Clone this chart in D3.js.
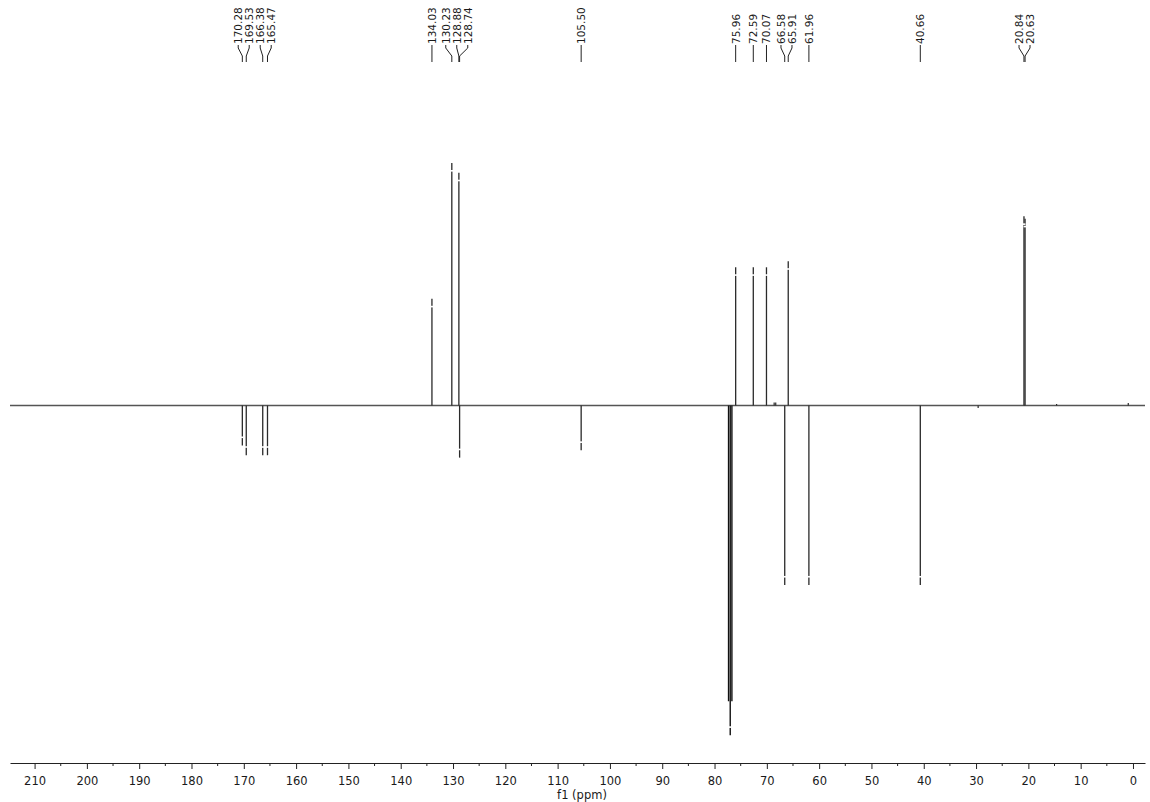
<!DOCTYPE html>
<html>
<head>
<meta charset="utf-8">
<script src="https://cdn.jsdelivr.net/npm/d3@7"></script>
<style>
  body { margin: 0; background: #fff; }
  svg { display: block; }
</style>
</head>
<body>
<svg id="chart" width="1150" height="802"></svg>
<script>
// 13C APT spectrum: CH/CH3 point up, C/CH2 point down
const peakShifts      = [170.28, 169.53, 166.38, 165.47, 134.03, 130.23, 128.88, 128.74, 105.50,
                         75.96, 72.59, 70.07, 66.58, 65.91, 61.96, 40.66, 20.84, 20.63];
const peakIntensities = [-0.165, -0.205, -0.205, -0.205, 0.44, 1.00, 0.96, -0.215, -0.185,
                         0.57, 0.57, 0.57, -0.74, 0.595, -0.74, -0.74, 0.78, 0.77];

// CDCl3 solvent triplet
const solventShifts      = [77.32, 77.00, 76.68];
const solventIntensities = [-1.22, -1.36, -1.22];

// small baseline features
const minorShifts      = [68.6, 68.3, 29.6, 14.6, 0.9];
const minorIntensities = [0.012, 0.012, -0.010, 0.006, 0.010];

const majorTicks = d3.range(0, 211, 10);
const minorTicks = d3.range(5, 215, 10);
const axisTitle = "f1 (ppm)";

const svg = d3.select("#chart");

const x = d3.scaleLinear().domain([214.7, -2.3]).range([10, 1145]);
const y = d3.scaleLinear().domain([-1.4, 1.0]).range([745, 163]);
const y0 = y(0);
const axisY = 763;

const ink = "#2a2a2a";
const font = "DejaVu Sans, Verdana, sans-serif";

// baseline
svg.append("line")
  .attr("x1", x(214.7)).attr("x2", x(-2.3))
  .attr("y1", y0).attr("y2", y0)
  .attr("stroke", "#555").attr("stroke-width", 1.3);

// minor features
svg.append("g").selectAll("line")
  .data(d3.zip(minorShifts, minorIntensities))
  .join("line")
  .attr("x1", d => x(d[0])).attr("x2", d => x(d[0]))
  .attr("y1", y0).attr("y2", d => y(d[1]))
  .attr("stroke", ink).attr("stroke-width", 1.2);

// solvent
svg.append("g").selectAll("line")
  .data(d3.zip(solventShifts, solventIntensities))
  .join("line")
  .attr("x1", d => x(d[0])).attr("x2", d => x(d[0]))
  .attr("y1", y0).attr("y2", d => y(d[1]))
  .attr("stroke", "#111").attr("stroke-width", 1.4);

// sample peaks
const peaks = d3.zip(peakShifts, peakIntensities);
svg.append("g").selectAll("line")
  .data(peaks)
  .join("line")
  .attr("x1", d => x(d[0])).attr("x2", d => x(d[0]))
  .attr("y1", y0).attr("y2", d => y(d[1]))
  .attr("stroke", ink).attr("stroke-width", 1.3);

// peak-pick markers near the tips
svg.append("g").selectAll("rect")
  .data(peaks.concat(d3.zip(solventShifts, solventIntensities).slice(1, 2)))
  .join("rect")
  .attr("x", d => x(d[0]) - 1.5)
  .attr("width", 3)
  .attr("y", d => d[1] > 0 ? y(d[1]) + 7 : y(d[1]) - 9)
  .attr("height", 1.6)
  .attr("fill", "#fff");

// peak labels with spread positions
const order = peaks.map(d => d[0]).sort((a, b) => b - a);
const gap = 11;
let clusters = order.map(p => ({ peaks: [p] }));
function place(c) {
  const m = d3.mean(c.peaks, p => x(p));
  const n = c.peaks.length;
  c.pos = c.peaks.map((p, i) => m + (i - (n - 1) / 2) * gap);
}
clusters.forEach(place);
let merged = true;
while (merged) {
  merged = false;
  for (let i = 0; i < clusters.length - 1; i++) {
    const a = clusters[i], b = clusters[i + 1];
    if (b.pos[0] - a.pos[a.pos.length - 1] < gap) {
      const c = { peaks: a.peaks.concat(b.peaks) };
      place(c);
      clusters.splice(i, 2, c);
      merged = true;
      break;
    }
  }
}
const labels = [];
clusters.forEach(c => c.peaks.forEach((p, i) => labels.push({ ppm: p, lx: c.pos[i] })));

const labelBottom = 44;
const lg = svg.append("g");
lg.selectAll("text")
  .data(labels)
  .join("text")
  .attr("transform", d => `translate(${d.lx},${labelBottom}) rotate(-90)`)
  .attr("dominant-baseline", "central")
  .attr("text-anchor", "start")
  .attr("font-family", font)
  .attr("font-size", 10.5)
  .attr("fill", "#1a1a1a")
  .text(d => d3.format(".2f")(d.ppm));

lg.selectAll("path")
  .data(labels)
  .join("path")
  .attr("d", d => {
    const px = x(d.ppm);
    return `M${d.lx},${labelBottom + 1}L${d.lx},${labelBottom + 4}L${px},${labelBottom + 12}L${px},${labelBottom + 18}`;
  })
  .attr("fill", "none")
  .attr("stroke", "#222")
  .attr("stroke-width", 1);

// ppm axis
const axis = svg.append("g")
  .attr("transform", `translate(0,${axisY})`)
  .call(d3.axisBottom(x).tickValues(majorTicks).tickSize(6).tickSizeOuter(0).tickPadding(8)
    .tickFormat(d3.format("d")));
axis.select(".domain").attr("stroke", "#222");
axis.selectAll(".tick line").attr("stroke", "#222");
axis.selectAll("text")
  .attr("font-family", font)
  .attr("font-size", 11.5)
  .attr("fill", "#1a1a1a");

svg.append("g")
  .attr("transform", `translate(0,${axisY})`)
  .selectAll("line")
  .data(minorTicks)
  .join("line")
  .attr("x1", d => x(d)).attr("x2", d => x(d))
  .attr("y1", 0).attr("y2", 3)
  .attr("stroke", "#222");

svg.append("text")
  .attr("x", 582).attr("y", 799)
  .attr("text-anchor", "middle")
  .attr("font-family", font)
  .attr("font-size", 11.5)
  .attr("fill", "#1a1a1a")
  .text(axisTitle);
</script>
</body>
</html>
